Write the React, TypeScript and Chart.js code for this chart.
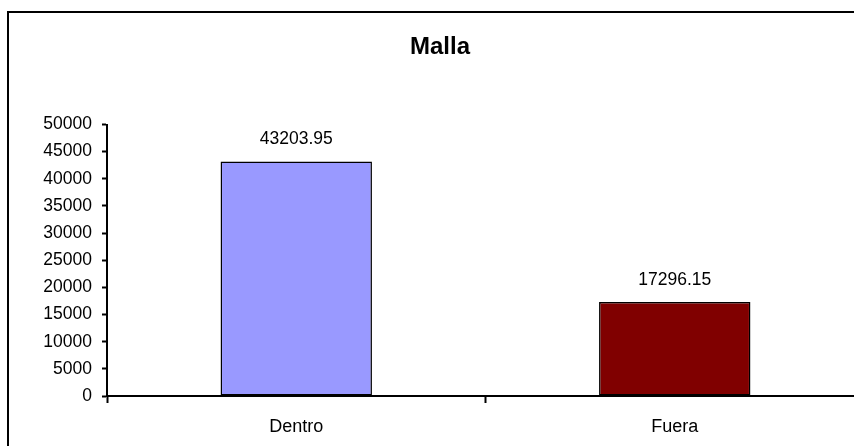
import React, { useEffect, useRef } from "react";
import { Chart, registerables } from "chart.js";

Chart.register(...registerables);

const categories = ["Dentro", "Fuera"];
const values = [43203.95, 17296.15];
const valueLabels = ["43203.95", "17296.15"];
const barColors = ["#9999FF", "#800000"];
const yMin = 0;
const yMax = 50000;
const yStep = 5000;
const titleText = "Malla";

const FONT = "'Liberation Sans', Arial, sans-serif";

const frameAndLabels = {
  id: "frameAndLabels",
  afterDraw(chart: any) {
    const ctx = chart.ctx;
    ctx.save();
    ctx.strokeStyle = "#000";
    ctx.lineWidth = 2;
    ctx.strokeRect(8, 12, 864, 444);
    const meta = chart.getDatasetMeta(0);
    ctx.fillStyle = "#000";
    ctx.font = `17.5px ${FONT}`;
    ctx.textAlign = "center";
    ctx.textBaseline = "middle";
    meta.data.forEach((bar: any, i: number) => {
      ctx.fillText(valueLabels[i], bar.x, bar.y - 22);
    });
    ctx.restore();
  },
};

export default function App() {
  const ref = useRef<HTMLCanvasElement>(null);
  useEffect(() => {
    if (!ref.current) return;
    const chart = new Chart(ref.current, {
      type: "bar",
      data: {
        labels: categories,
        datasets: [
          {
            data: values,
            backgroundColor: barColors,
            borderColor: "#000",
            borderWidth: 1.5,
            borderSkipped: false,
            barPercentage: 0.4,
            categoryPercentage: 1.0,
          },
        ],
      },
      options: {
        animation: false,
        responsive: true,
        maintainAspectRatio: false,
        layout: { padding: { top: 0, left: 16, right: 16, bottom: 0 } },
        plugins: {
          legend: { display: false },
          tooltip: { enabled: false },
          title: {
            display: true,
            text: titleText,
            color: "#000",
            font: { family: FONT, size: 24, weight: "bold", lineHeight: 1.2 },
            padding: { top: 33, bottom: 62.7 },
          },
        },
        scales: {
          x: {
            offset: true,
            grid: {
              offset: true,
              drawOnChartArea: false,
              drawTicks: true,
              tickLength: 7,
              tickWidth: 2,
              tickColor: "#000",
              color: "#000",
            },
            border: { display: true, color: "#000", width: 2 },
            ticks: {
              color: "#000",
              font: { family: FONT, size: 18 },
              padding: 13,
              maxRotation: 0,
            },
            afterFit(scale: any) {
              scale.height = 64;
            },
          },
          y: {
            min: yMin,
            max: yMax,
            grid: {
              drawOnChartArea: false,
              drawTicks: true,
              tickLength: 5,
              tickWidth: 2,
              tickColor: "#000",
              color: "#000",
            },
            border: { display: true, color: "#000", width: 2 },
            ticks: {
              stepSize: yStep,
              color: "#000",
              font: { family: FONT, size: 17.5 },
              padding: 10,
              callback: (v: any) => String(v),
            },
            afterFit(scale: any) {
              scale.width = 91;
            },
          },
        },
      },
      plugins: [frameAndLabels],
    });
    return () => chart.destroy();
  }, []);

  return (
    <div
      style={{
        position: "fixed",
        left: 0,
        top: 0,
        width: 854,
        height: 446,
        overflow: "hidden",
        background: "#fff",
      }}
    >
      <div style={{ position: "relative", width: 880, height: 460 }}>
        <canvas ref={ref} />
      </div>
    </div>
  );
}
